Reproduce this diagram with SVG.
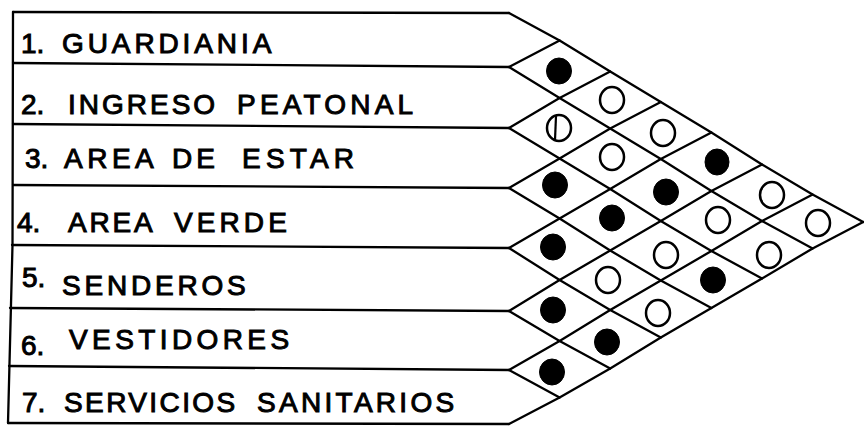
<svg xmlns="http://www.w3.org/2000/svg" width="864" height="428" viewBox="0 0 864 428">
<style>
.ln{fill:none;stroke:#000;stroke-width:2.3;stroke-linejoin:round;stroke-linecap:round}
.lbl{font-family:"Liberation Sans",Arial,sans-serif;font-size:28px;fill:#000;stroke:#000;stroke-width:1}
.op{fill:#fff;stroke:#000;stroke-width:2.5}
.fl{fill:#000;stroke:#000;stroke-width:1}
.bar{stroke:#000;stroke-width:2.2}
</style>
<rect width="864" height="428" fill="#fff"/>
<g id="connectors">
<polyline class="ln" points="13,12 12.5,245 8,423"/>
<line class="ln" x1="13" y1="12" x2="509" y2="13"/>
<line class="ln" x1="13" y1="63" x2="509" y2="67"/>
<line class="ln" x1="13" y1="124" x2="509" y2="128"/>
<line class="ln" x1="13" y1="185" x2="509" y2="188"/>
<line class="ln" x1="12" y1="245" x2="509" y2="248"/>
<line class="ln" x1="10" y1="308" x2="509" y2="311"/>
<line class="ln" x1="9" y1="366" x2="509" y2="370"/>
<line class="ln" x1="8" y1="423" x2="509" y2="424"/>
<polyline class="ln" points="509,13 559.6,40.5 610.2,71.5 660.8,102 711.4,132.5 762,164.5 812.6,194.5 863.2,222"/>
<polyline class="ln" points="509,67 559.6,98 610.2,128.5 660.8,159 711.4,191 762,221 812.6,248.5"/>
<polyline class="ln" points="509,128 559.6,158.5 610.2,189 660.8,221 711.4,251 762,278.5"/>
<polyline class="ln" points="509,188 559.6,218.5 610.2,250.5 660.8,280.5 711.4,308"/>
<polyline class="ln" points="509,248 559.6,280 610.2,310 660.8,337.5"/>
<polyline class="ln" points="509,311 559.6,341 610.2,368.5"/>
<polyline class="ln" points="509,370 559.6,397.5"/>
<polyline class="ln" points="509,67 559.6,40.5"/>
<polyline class="ln" points="509,128 559.6,98 610.2,71.5"/>
<polyline class="ln" points="509,188 559.6,158.5 610.2,128.5 660.8,102"/>
<polyline class="ln" points="509,248 559.6,218.5 610.2,189 660.8,159 711.4,132.5"/>
<polyline class="ln" points="509,311 559.6,280 610.2,250.5 660.8,221 711.4,191 762,164.5"/>
<polyline class="ln" points="509,370 559.6,341 610.2,310 660.8,280.5 711.4,251 762,221 812.6,194.5"/>
<polyline class="ln" points="509,424 559.6,397.5 610.2,368.5 660.8,337.5 711.4,308 762,278.5 812.6,248.5 863.2,222"/>
</g>
<g id="row1"><text class="lbl" y="53"><tspan x="21">1.</tspan><tspan x="62" style="letter-spacing:3.9px">GUARDIANIA</tspan></text></g>
<g id="row2"><text class="lbl" y="114"><tspan x="21">2.</tspan><tspan x="68" style="letter-spacing:3px">INGRESO</tspan><tspan x="237" style="letter-spacing:4.2px">PEATONAL</tspan></text></g>
<g id="row3"><text class="lbl" y="168"><tspan x="25">3.</tspan><tspan x="64" style="letter-spacing:4.5px">AREA</tspan><tspan x="172" style="letter-spacing:4px">DE</tspan><tspan x="242" style="letter-spacing:5.2px">ESTAR</tspan></text></g>
<g id="row4"><text class="lbl" y="232"><tspan x="17">4.</tspan><tspan x="68" style="letter-spacing:2.8px">AREA</tspan><tspan x="174" style="letter-spacing:4.1px">VERDE</tspan></text></g>
<g id="row5"><text class="lbl" y="295"><tspan x="22" dy="-8">5.</tspan><tspan x="62" dy="8" style="letter-spacing:3.8px">SENDEROS</tspan></text></g>
<g id="row6"><text class="lbl" y="349"><tspan x="21" dy="6">6.</tspan><tspan x="69" dy="-6" style="letter-spacing:4.4px">VESTIDORES</tspan></text></g>
<g id="row7"><text class="lbl" y="412"><tspan x="22">7.</tspan><tspan x="64" style="letter-spacing:2.4px">SERVICIOS</tspan><tspan x="257" style="letter-spacing:3.3px">SANITARIOS</tspan></text></g>
<g id="cells">
<ellipse id="c1-2" class="fl" cx="559" cy="71" rx="12.5" ry="13"/>
<g id="c2-3"><ellipse class="op" cx="559" cy="128" rx="12" ry="13"/><line class="bar" x1="556" y1="116" x2="555" y2="140"/></g>
<ellipse id="c3-4" class="fl" cx="555" cy="185" rx="12.5" ry="13"/>
<ellipse id="c4-5" class="fl" cx="553" cy="247" rx="12.5" ry="13"/>
<ellipse id="c5-6" class="fl" cx="553" cy="310" rx="12.5" ry="13"/>
<ellipse id="c6-7" class="fl" cx="552" cy="372" rx="12.5" ry="13"/>
<ellipse id="c1-3" class="op" cx="612" cy="100" rx="12" ry="13"/>
<ellipse id="c2-4" class="op" cx="612" cy="157" rx="12" ry="13"/>
<ellipse id="c3-5" class="fl" cx="612" cy="218" rx="12.5" ry="13"/>
<ellipse id="c4-6" class="op" cx="608" cy="280" rx="12" ry="13"/>
<ellipse id="c5-7" class="fl" cx="607" cy="342" rx="12.5" ry="13"/>
<ellipse id="c1-4" class="op" cx="663" cy="133" rx="12" ry="13"/>
<ellipse id="c2-5" class="fl" cx="666" cy="192" rx="12.5" ry="13"/>
<ellipse id="c3-6" class="op" cx="666" cy="255" rx="12" ry="13"/>
<ellipse id="c4-7" class="op" cx="658" cy="313" rx="12" ry="13"/>
<ellipse id="c1-5" class="fl" cx="717" cy="162" rx="12" ry="13"/>
<ellipse id="c2-6" class="op" cx="718" cy="220" rx="12" ry="13"/>
<ellipse id="c3-7" class="fl" cx="713" cy="280" rx="12.5" ry="13"/>
<ellipse id="c1-6" class="op" cx="772" cy="195" rx="12" ry="13"/>
<ellipse id="c2-7" class="op" cx="769" cy="255" rx="12" ry="13"/>
<ellipse id="c1-7" class="op" cx="818" cy="223" rx="12" ry="13"/>
</g>
</svg>
